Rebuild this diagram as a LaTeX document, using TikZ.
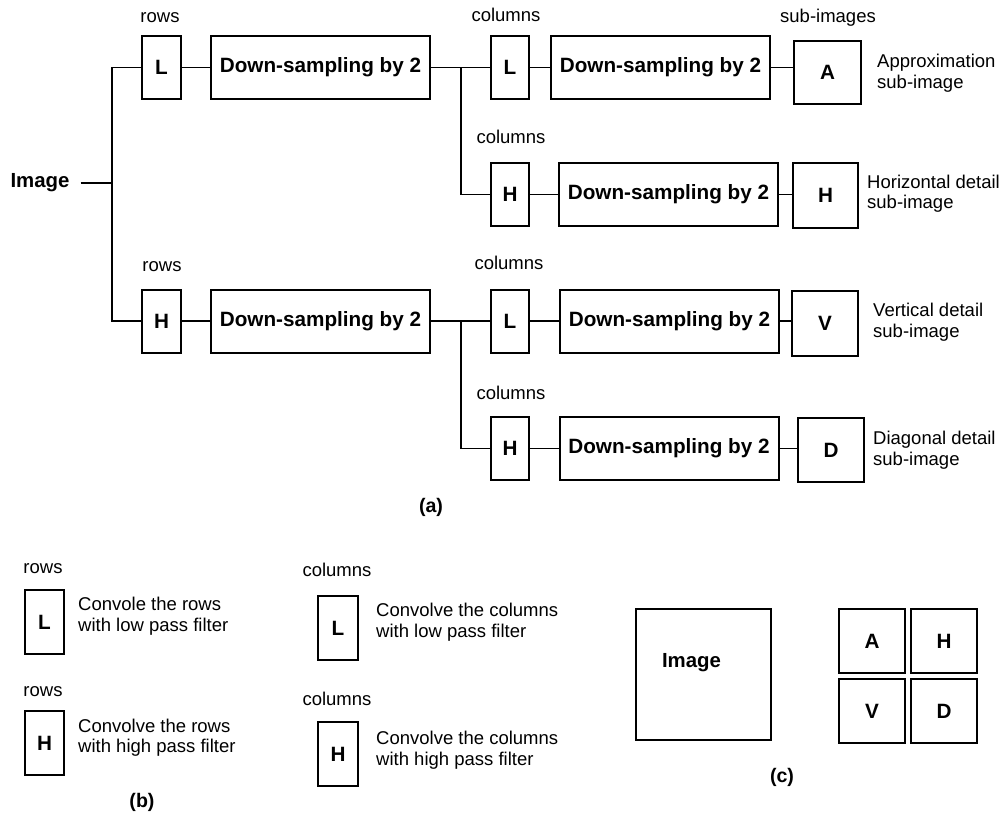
\documentclass[tikz,border=0pt]{standalone}
\usepackage{fontspec}
\setmainfont{Liberation Sans}
\usetikzlibrary{positioning}
\tikzset{
  filt/.style={draw, line width=2pt, minimum width=39pt, minimum height=63pt,
               inner sep=0pt, font=\fontsize{20.7}{22}\selectfont\bfseries},
  ds/.style={filt, minimum width=219pt},
  sub/.style={filt, minimum width=66pt, minimum height=64pt},
  wire/.style={line width=1.7pt},
  lbl/.style={inner sep=0pt, font=\fontsize{18.5}{20.5}\selectfont},
  dsc/.style={lbl, anchor=west, align=left},
  figtag/.style={inner sep=0pt, font=\fontsize{19.6}{22}\selectfont\bfseries}
}

\begin{document}
\begin{tikzpicture}[x=1pt, y=-1pt]
  \useasboundingbox (0,0) rectangle (1003,814);
  % (a) decomposition
  \node[figtag, inner xsep=11pt, font=\fontsize{20.4}{22}\selectfont\bfseries] (img) at (40,183) {Image};
  \coordinate (split) at (112,183);
  % rows stage
  \node[lbl] (trl) at (160,18) {rows};
  \node[filt] (rl) at (161.5,67.5) {L};
  \node[ds] (dsl) at (320.5,67.5) {Down-sampling by 2};
  \node[lbl] (trh) at (162,267) {rows};
  \node[filt] (rh) at (161.5,321) {H};
  \node[ds] (dsh) at (320.5,321) {Down-sampling by 2};
  % columns stage
  \node[lbl] (tc1) at (506,15) {columns};
  \node[filt, minimum width=38pt] (cl1) at (510,67.5) {L};
  \node[ds] (ds1) at (660.5,67.5) {Down-sampling by 2};
  \node[lbl] (tc2) at (511,137) {columns};
  \node[filt, minimum width=38pt] (ch1) at (510,194.5) {H};
  \node[ds] (ds2) at (668.5,194.5) {Down-sampling by 2};
  \node[lbl] (tc3) at (509,263) {columns};
  \node[filt, minimum width=38pt] (cl2) at (510,321) {L};
  \node[ds] (ds3) at (669.5,321) {Down-sampling by 2};
  \node[lbl] (tc4) at (511,393) {columns};
  \node[filt, minimum width=38pt] (ch2) at (510,448.5) {H};
  \node[ds] (ds4) at (669,448.5) {Down-sampling by 2};
  % sub-images
  \node[lbl] (tsub) at (828,18) {sub-images};
  \node[sub, minimum width=67pt, minimum height=63pt] (sa) at (827.5,72.5) {A};
  \node[sub, minimum width=65pt, minimum height=65pt] (sh) at (825.5,195.5) {H};
  \node[sub, minimum height=65pt] (sv) at (825,323.5) {V};
  \node[sub] (sd) at (831,450) {D};
  \node[dsc] (da) at (877,73) {Approximation\\sub-image};
  \node[dsc] (dh) at (867,193.5) {Horizontal detail\\sub-image};
  \node[dsc] (dv) at (873,322) {Vertical detail\\sub-image};
  \node[dsc] (dd) at (873,450) {Diagonal detail\\sub-image};
  \node[figtag] (capa) at (431,507) {(a)};
  % wiring
  \coordinate (b1) at (461,67.5);
  \coordinate (b2) at (461,321);
  \draw[wire] (img.east) -- (split);
  \draw[wire] (rl.west) -| (split) |- (rh.west);
  \draw[wire] (rl) -- (dsl);
  \draw[wire] (rh) -- (dsh);
  \draw[wire] (dsl) -- (cl1);
  \draw[wire] (dsh) -- (cl2);
  \draw[wire] (b1) |- (ch1.west);
  \draw[wire] (b2) |- (ch2.west);
  \draw[wire] (cl1) -- (ds1);
  \draw[wire] (ch1) -- (ds2);
  \draw[wire] (cl2) -- (ds3);
  \draw[wire] (ch2) -- (ds4);
  \draw[wire] (ds1.east) -- (ds1.east -| sa.west);
  \draw[wire] (ds2.east) -- (ds2.east -| sh.west);
  \draw[wire] (ds3.east) -- (ds3.east -| sv.west);
  \draw[wire] (ds4.east) -- (ds4.east -| sd.west);
  % (b) legend
  \node[lbl] (lr1) at (43,569) {rows};
  \node[filt, minimum height=64pt] (kl) at (44.5,622) {L};
  \node[dsc] (kld) at (78,616) {Convole the rows\\with low pass filter};
  \node[lbl] (lr2) at (43,692) {rows};
  \node[filt, minimum height=64pt] (kh) at (44.5,743) {H};
  \node[dsc] (khd) at (78,737.5) {Convolve the rows\\with high pass filter};
  \node[lbl] (lc1) at (337,570) {columns};
  \node[filt, minimum width=40pt, minimum height=64pt] (kcl) at (338,628) {L};
  \node[dsc] (kcld) at (376,622) {Convolve the columns\\with low pass filter};
  \node[lbl] (lc2) at (337,699) {columns};
  \node[filt, minimum width=40pt, minimum height=64pt] (kch) at (338,754) {H};
  \node[dsc] (kchd) at (376,750) {Convolve the columns\\with high pass filter};
  \node[figtag] (capb) at (142,802) {(b)};
  % (c) layout
  \node[draw, line width=2pt, minimum width=135pt, minimum height=131pt] (ibox) at (703.5,674.5) {};
  \node[figtag, font=\fontsize{20.4}{22}\selectfont\bfseries] (itxt) at (691.5,663) {Image};
  \node[sub] (qa) at (872,641) {A};
  \node[sub] (qh) at (944,641) {H};
  \node[sub] (qv) at (872,711) {V};
  \node[sub] (qd) at (944,711) {D};
  \node[figtag] (capc) at (782,777) {(c)};
\end{tikzpicture}
\end{document}
